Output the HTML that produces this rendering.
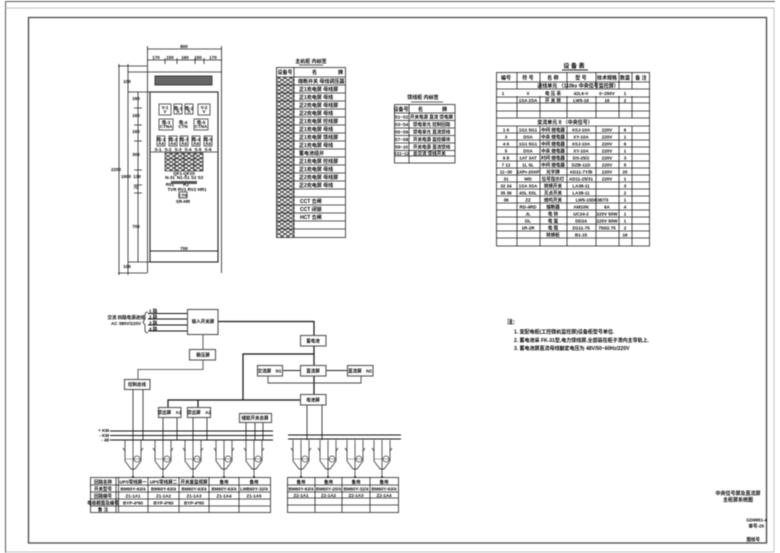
<!DOCTYPE html>
<html><head><meta charset="utf-8"><style>
html,body{margin:0;padding:0;background:#fff;width:780px;height:553px;overflow:hidden}
svg{display:block;filter:blur(.4px)}
text{font-family:"Liberation Sans","Noto Sans CJK SC",sans-serif;fill:#000;font-weight:700}
.s{font-size:4.5px}.m{font-size:5px}.l{font-size:6px}
.c{text-anchor:middle}
.t{fill:none;stroke:#222;stroke-width:.8}
.d{fill:none;stroke:#111;stroke-width:1.2}
.g{fill:none;stroke:#666;stroke-width:1.1}
.b{fill:#fff;stroke:#555;stroke-width:1.1}
</style></head><body>
<svg width="780" height="553" viewBox="0 0 780 553" xmlns="http://www.w3.org/2000/svg">
<defs>
<pattern id="hx" width="6" height="4" patternUnits="userSpaceOnUse"><path d="M0 0L6 4M0 4L6 0" stroke="#222" stroke-width=".8"/></pattern>
<g id="br"><path d="M-10 0L-8 3V13L-2 21H2L8 13V3L10 0" fill="none" stroke="#444" stroke-width=".9"/><path d="M0 -8V30M-8 -8V3M8 -8V3" fill="none" stroke="#333" stroke-width=".8"/><circle cx="4" cy="11" r="3" fill="#fff" stroke="#444" stroke-width=".8"/><path d="M-8 11H8" stroke="#555" stroke-width=".5"/><circle cx="0" cy="29" r="1" fill="#111"/></g>
</defs>
<rect width="780" height="553" fill="#fff"/>
<!-- frames -->
<path d="M5.5 1.5H775M5.5 1.5V553" fill="none" stroke="#555" stroke-width="1"/>
<path d="M5 8H774V552H5" fill="none" stroke="#aaa" stroke-width=".7"/>
<path d="M28.500 17.500H766.500V543H28.500Z" fill="none" stroke="#444" stroke-width="1.3"/>

<!-- cabinet front -->
<g class="t">
<path d="M147.500 46V273M221.500 46V273M147 72H222M118 66H147M128 72H147M128 92H150M128 262H150M118 273H147"/>
<path d="M147 49H222M147 60H222M165 58V64M177 58V64M195 58V64M204 58V64"/>
<path d="M119 64V275M128 64V275M138 92V262M134 108H142M134 125H142M134 141H142M134 170H142M134 185H142M134 193H142"/>
</g>
<text class="s c" x="184" y="48">800</text>
<g class="s c"><text x="156" y="59">170</text><text x="170" y="59">150</text><text x="185" y="59">160</text><text x="198" y="59">150</text><text x="213" y="59">170</text></g>
<g class="s c"><text x="116" y="171">2200</text><text x="126" y="178">1900</text><text x="127" y="83">100</text><text x="136" y="100">160</text><text x="136" y="117">160</text><text x="136" y="133">160</text><text x="136" y="156">300</text><text x="137" y="178">130</text><text x="136" y="189">70</text><text x="136" y="228">700</text><text x="127" y="268">100</text></g>
<rect x="155" y="76" width="57" height="9" fill="#666" stroke="#222" stroke-width=".8"/>
<rect x="150" y="92" width="68" height="170" fill="none" stroke="#222" stroke-width="1.1"/>
<path d="M150 251H218" stroke="#222" stroke-width=".9"/>
<text class="s c" x="184" y="250">700</text>
<g fill="#fff" stroke="#333" stroke-width=".8">
<rect x="159" y="104" width="12" height="11"/><rect x="174" y="104" width="8" height="10"/><rect x="185" y="104" width="8" height="10"/><rect x="198" y="104" width="12" height="11"/>
<rect x="159" y="119" width="14" height="11"/><rect x="194" y="119" width="14" height="11"/>
<rect x="157" y="136" width="8" height="10"/><rect x="169" y="136" width="8" height="10"/><rect x="180" y="136" width="8" height="10"/><rect x="192" y="136" width="8" height="10"/><rect x="204" y="136" width="8" height="10"/>
<rect x="179" y="192" width="8" height="6"/>
</g>
<g class="s c"><text x="165" y="109">V-1</text><text x="165" y="113">V</text><text x="178" y="110">电-1</text><text x="178" y="113">A</text><text x="189" y="110">电-2</text><text x="189" y="113">A</text><text x="204" y="109">V-2</text><text x="204" y="113">V</text>
<text x="166" y="124">电-3</text><text x="166" y="128">CTNA</text><text x="183" y="124">电-4</text><text x="183" y="128">CTN</text><text x="201" y="124">电-5</text><text x="201" y="128">CTNA</text>
<text x="161" y="141">电-1</text><text x="173" y="141">电-2</text><text x="184" y="141">电-3</text><text x="196" y="141">电-4</text><text x="208" y="141">电-5</text>
<text x="161" y="145">A4</text><text x="173" y="145">A4</text><text x="184" y="145">A4</text><text x="196" y="145">A4</text><text x="208" y="145">A4</text></g>
<path d="M150 152H218" stroke="#222" stroke-width=".8"/>
<g class="s c"><text x="158" y="151">S-1</text><text x="168" y="151">S-2</text><text x="178" y="151">S-3</text><text x="188" y="151">S-4</text><text x="198" y="151">S-5</text><text x="208" y="151">S-6</text></g>
<rect x="165" y="153" width="38" height="18" fill="url(#hx)" stroke="#333" stroke-width=".7"/>
<path d="M175 153V171M184 153V171M194 153V171M165 159H203M165 165H203" stroke="#222" stroke-width=".6"/>
<g class="s c"><text x="184" y="175">QF1-QF20</text><text x="170" y="179">N-31</text><text x="190" y="179">N1-S1 S2 S3</text><text x="170" y="186">R01</text><text x="186" y="186">R1</text><text x="187" y="191">TVR RV1 RV2 HR1</text><text x="183" y="203">SR-HR</text></g>
<rect x="171" y="181" width="26" height="3" fill="#555"/>
<text class="s c" x="183" y="197">CTN</text>

<!-- table 1 -->
<text class="m c" x="311" y="63">主机柜 内标签</text><path d="M299 65H323" stroke="#222" stroke-width=".8"/>
<rect x="277" y="77" width="17" height="160" fill="url(#hx)"/>
<rect x="276.500" y="67.500" width="69" height="170" class="t"/>
<path class="t" d="M294 67V237M276 77H345M276 85H345M276 93H345M276 101H345M276 109H345M276 117H345M276 125H345M276 133H345M276 141H345M276 149H345M276 157H345M276 165H345M276 173H345M276 181H345M276 189H345M276 197H345M276 205H345M276 213H345M276 221H345M276 229H345"/>
<text class="m c" x="285" y="74">设备号</text><text class="m" x="312" y="74">名</text><text class="m" x="338" y="74">牌</text>
<g class="m"><text x="298" y="83">熔断开关 母线调压器</text><text x="299" y="91">正1充电屏 母线屏</text><text x="299" y="99">正1充电屏 母线</text><text x="299" y="107">正2充电屏 母线屏</text><text x="299" y="115">正2充电屏 母线</text><text x="299" y="123">正1充电屏 控线屏</text><text x="299" y="131">正1充电屏 母线</text><text x="299" y="139">正1充电屏 馈线屏</text><text x="299" y="147">正1充电屏 母线</text><text x="299" y="155">蓄电池组开</text><text x="299" y="163">正1充电屏 控线屏</text><text x="299" y="171">正1充电屏 母线</text><text x="299" y="179">正2充电屏 母线屏</text><text x="299" y="187">正2充电屏 母线</text><text x="300" y="203">CCT 合闸</text><text x="300" y="211">CCT 闭锁</text><text x="300" y="219">HCT 合闸</text></g>

<!-- table 2 -->
<text class="m c" x="423" y="99">馈线柜 内标签</text><path d="M411 102H443" stroke="#222" stroke-width=".8"/>
<rect x="394.500" y="104.500" width="60.500" height="58.500" class="t"/>
<path class="t" d="M409 104V163M394 113H455M394 120.500H455M394 128H455M394 135.500H455M394 143H455M394 150.500H455M394 156H455"/>
<text class="m c" x="401" y="111">设备号</text><text class="m" x="418" y="111">名</text><text class="m" x="442" y="111">牌</text>
<g class="s c"><text x="401.500" y="118.500">S1~S2</text><text x="401.500" y="126">S3~S4</text><text x="401.500" y="133.500">S5~S6</text><text x="401.500" y="141">S7~S8</text><text x="401.500" y="148.500">S9~10</text><text x="401.500" y="155">S11~12</text></g>
<g class="s"><text x="410" y="118.500">开关电源 直流 馈电屏</text><text x="413" y="126">馈电单元 控制回路</text><text x="413" y="133.500">馈电单元 直流馈线</text><text x="413" y="141">开关电源 监控模块</text><text x="413" y="148.500">开关电源 直流馈线</text><text x="413" y="155">总交流 馈线开关</text></g>

<!-- table 3 -->
<text class="l c" x="574" y="68">设 备 表</text><path d="M562 70H588" stroke="#222" stroke-width=".9"/>
<rect x="496.500" y="72.500" width="153" height="173.500" class="t"/>
<path class="t" d="M517 72V89M517 96V118M517 126V246M540 72V89M540 96V118M540 126V246M567 72V89M567 96V118M567 126V246M596 72V89M596 96V118M596 126V246M619 72V89M619 96V118M619 126V246M632 72V89M632 96V118M632 126V246"/>
<path class="t" d="M496 82H650M496 89H650M496 97H650M496 103H650M496 111H650M496 118H650M496 126H650M496 133H650M496 140H650M496 147H650M496 154H650M496 161H650M496 168H650M496 175H650M496 182H650M496 189H650M496 196H650M496 203H650M496 210H650M496 217H650M496 224H650M496 231H650M496 238H650"/>
<g class="m c"><text x="506" y="79.500">编号</text><text x="528" y="79.500">符 号</text><text x="553" y="79.500">名 称</text><text x="581" y="79.500">型 号</text><text x="607" y="79.500">技术规格</text><text x="625" y="79.500">数量</text><text x="641" y="79.500">备 注</text></g>
<text class="m c" x="578" y="87.500">进线单元 （110kv 中央信号监控屏）</text>
<text class="m c" x="565" y="124">变流单元 II （中央信号）</text>
<g class="s c">
<text x="503" y="95">1</text><text x="528" y="95">V</text><text x="553" y="95">电 压 表</text><text x="581" y="95">42L6-V</text><text x="607" y="95">0~250V</text><text x="625" y="95">1</text>
<text x="528" y="102">1SA 2SA</text><text x="553" y="102">开 关 转</text><text x="581" y="102">LW5-16</text><text x="607" y="102">16</text><text x="625" y="102">2</text>
<text x="506" y="131.500">1 6</text><text x="528" y="131.500">1G1 5G1</text><text x="553" y="131.500">中间 继电器</text><text x="581" y="131.500">XSJ-10A</text><text x="607" y="131.500">220V</text><text x="625" y="131.500">6</text>
<text x="506" y="138.500">3</text><text x="528" y="138.500">DSA</text><text x="553" y="138.500">中央 继电器</text><text x="581" y="138.500">XY-10A</text><text x="607" y="138.500">220V</text><text x="625" y="138.500">1</text>
<text x="506" y="145.500">4 6</text><text x="528" y="145.500">1G1 5G1</text><text x="553" y="145.500">中间 继电器</text><text x="581" y="145.500">XSJ-10A</text><text x="607" y="145.500">220V</text><text x="625" y="145.500">6</text>
<text x="506" y="152.500">5</text><text x="528" y="152.500">DSA</text><text x="553" y="152.500">中央 继电器</text><text x="581" y="152.500">XY-10A</text><text x="607" y="152.500">220V</text><text x="625" y="152.500">1</text>
<text x="506" y="159.500">6 8</text><text x="528" y="159.500">1AT 3AT</text><text x="553" y="159.500">时间 继电器</text><text x="581" y="159.500">DS-25/2</text><text x="607" y="159.500">220V</text><text x="625" y="159.500">3</text>
<text x="506" y="166.500">7 12</text><text x="528" y="166.500">1L 5L</text><text x="553" y="166.500">中间 继电器</text><text x="581" y="166.500">DZB-11D</text><text x="607" y="166.500">220V</text><text x="625" y="166.500">5</text>
<text x="506" y="173.500">11~30</text><text x="528" y="173.500">1XPr-20XP</text><text x="553" y="173.500">光字牌</text><text x="581" y="173.500">AD11-7Y/B</text><text x="607" y="173.500">220V</text><text x="625" y="173.500">20</text>
<text x="506" y="180.500">31</text><text x="528" y="180.500">WD</text><text x="553" y="180.500">信号指示灯</text><text x="581" y="180.500">AD11-25/31</text><text x="607" y="180.500">220V</text><text x="625" y="180.500">1</text>
<text x="506" y="187.500">32 34</text><text x="528" y="187.500">1SA 3SA</text><text x="553" y="187.500">转换开关</text><text x="581" y="187.500">LA38-11</text><text x="625" y="187.500">3</text>
<text x="506" y="194.500">35 36</text><text x="528" y="194.500">4SL 5SL</text><text x="553" y="194.500">灭点开关</text><text x="581" y="194.500">LA38-11</text><text x="625" y="194.500">2</text>
<text x="506" y="201.500">38</text><text x="528" y="201.500">ZZ</text><text x="553" y="201.500">蜂鸣开关</text><text x="592" y="201.500">LW5-15D0387/3</text><text x="625" y="201.500">1</text>
<text x="528" y="208.500">RD-4RD</text><text x="553" y="208.500">熔断器</text><text x="581" y="208.500">AM10N</text><text x="607" y="208.500">6A</text><text x="625" y="208.500">4</text>
<text x="528" y="215.500">JL</text><text x="553" y="215.500">电 铃</text><text x="581" y="215.500">UC24-2</text><text x="607" y="215.500">220V 50W</text><text x="625" y="215.500">1</text>
<text x="528" y="222.500">DL</text><text x="553" y="222.500">电 笛</text><text x="581" y="222.500">DD24</text><text x="607" y="222.500">220V 50W</text><text x="625" y="222.500">1</text>
<text x="528" y="229.500">1R-2R</text><text x="553" y="229.500">电 阻</text><text x="581" y="229.500">ZG11-75</text><text x="607" y="229.500">750Ω 75</text><text x="625" y="229.500">2</text>
<text x="553" y="236.500">转换柜</text><text x="581" y="236.500">B1-15</text><text x="625" y="236.500">16</text>
</g>

<!-- system: lines -->
<path d="M148 313.500H187M148 319H187M148 325H187M148 331H187" stroke="#111" stroke-width="1.1" fill="none"/>
<path class="t" d="M148 312Q145 312 145 315V319L143 322L145 325V330Q145 333 148 333"/>
<g class="s"><text x="149" y="312.500">1 路</text><text x="149" y="318.500">2 路</text><text x="149" y="324.500">3 路</text><text x="149" y="330.500">4 路</text></g>
<text class="s c" x="126" y="319">交流 四路电源进线</text>
<text class="s c" x="126" y="325">AC 380V/220V</text>
<path class="d" d="M218 321.500H314V335M314 346V365M314 354H243V400M314 376V394M168 407V400H300"/>
<path class="d" d="M198 400V407"/>
<path class="g" d="M203 334V349M203 360V369.500H138V379"/>
<path d="M282 370.500H300M326 370.500H347" stroke="#222" stroke-width="1"/>
<path d="M268 376V383H361V376" stroke="#444" stroke-width=".9" fill="none"/>
<path d="M133 389V440M143 389V440M163 417V440M177 417V440M193 417V440M207 417V440M246 422V440M255 422V440M263 422V440M307 405V440M322 405V440" stroke="#333" stroke-width=".9" fill="none"/>
<!-- bus -->
<path d="M110 431H273M110 435.500H273M110 440H273M288 435H401M288 439H401" stroke="#111" stroke-width="1" fill="none"/>
<g class="s" text-anchor="end"><text x="109" y="432">+ KM</text><text x="109" y="437">- KM</text><text x="109" y="441.500">- 48</text></g>
<!-- boxes -->
<rect x="187.500" y="309.500" width="30.500" height="25" class="b"/>
<rect x="189.500" y="349.500" width="26" height="10.500" class="b"/>
<rect x="124.500" y="379.500" width="25.500" height="10" class="b"/>
<rect x="300.500" y="335.500" width="25.500" height="10.500" class="b"/>
<rect x="257.500" y="365.500" width="25" height="10.500" class="b"/>
<rect x="300.500" y="365.500" width="25.500" height="10.500" class="b"/>
<rect x="347.500" y="365.500" width="25.500" height="10.500" class="b"/>
<rect x="300.500" y="394.500" width="25.500" height="10.500" class="b"/>
<rect x="158.500" y="407.500" width="22.500" height="10" class="b"/>
<rect x="187.500" y="407.500" width="23" height="10" class="b"/>
<rect x="239.500" y="413.500" width="32" height="9" class="b"/>
<g class="s c"><text x="203" y="323">输入开关屏</text><text x="203" y="356.500">稳压屏</text><text x="137" y="386">控制总线</text><text x="313" y="342.500">蓄电池</text><text x="269.500" y="372.500">交流屏　N1</text><text x="313" y="372.500">直流屏</text><text x="360" y="372.500">直流屏　N2</text><text x="313" y="401.500">电池屏</text><text x="169.500" y="414">馈出屏　A1</text><text x="199" y="414">馈出屏　A2</text><text x="255" y="419.500">储能开关总屏</text></g>
<!-- breakers -->
<use href="#br" x="133" y="448"/><use href="#br" x="163" y="448"/><use href="#br" x="193" y="448"/><use href="#br" x="224" y="448"/><use href="#br" x="254" y="448"/>
<use href="#br" x="301" y="448"/><use href="#br" x="328" y="448"/><use href="#br" x="355" y="448"/><use href="#br" x="382" y="448"/>
<!-- bottom tables -->
<rect x="90.500" y="477.500" width="180" height="35" class="t"/>
<path class="t" d="M116 477V512M118.500 477V512M148 477V512M179 477V512M209 477V512M239 477V512M90 485H270M90 492H270M90 499H270M90 506H270"/>
<g class="s c">
<text x="103" y="483.500">回路名称</text><text x="133" y="483.500">UPS零线屏一</text><text x="163.500" y="483.500">UPS零线屏二</text><text x="194" y="483.500">开关量监视屏</text><text x="224" y="483.500">备用</text><text x="254" y="483.500">备用</text>
<text x="103" y="490.500">开关型号</text><text x="133" y="490.500">BM60Y-63/4</text><text x="163.500" y="490.500">BM60Y-63/4</text><text x="194" y="490.500">BM60Y-63/4</text><text x="224" y="490.500">BM60Y-63/4</text><text x="254" y="490.500">LMB60Y-32/4</text>
<text x="103" y="497.500">回路编号</text><text x="133" y="497.500">Z1-1A1</text><text x="163.500" y="497.500">Z1-1A2</text><text x="194" y="497.500">Z1-1A3</text><text x="224" y="497.500">Z1-1A4</text><text x="254" y="497.500">Z1-1A5</text>
<text x="103" y="504.500">电缆截面及编号</text><text x="133" y="504.500">BYP-4*60</text><text x="163.500" y="504.500">BYP-4*60</text><text x="194" y="504.500">BYP-4*60</text>
<text x="103" y="511">备 注</text></g>
<rect x="287.500" y="477.500" width="111" height="35" class="t"/>
<path class="t" d="M315 477V512M342 477V512M370 477V512M287 485H398M287 492H398M287 498H398M287 505H398"/>
<g class="s c">
<text x="301" y="483.500">备用</text><text x="328.500" y="483.500">备用</text><text x="356" y="483.500">备用</text><text x="384" y="483.500">备用</text>
<text x="301" y="490.500">BM60Y-63/4</text><text x="328.500" y="490.500">BM60Y-20/4</text><text x="356" y="490.500">BM60Y-32/4</text><text x="384" y="490.500">BM60Y-63/4</text>
<text x="301" y="497">Z2-1A1</text><text x="328.500" y="497">Z2-1A2</text><text x="356" y="497">Z2-1A3</text><text x="384" y="497">Z2-1A4</text></g>
<!-- notes -->
<text class="l" x="507" y="324">注:</text>
<g class="m"><text x="514" y="333.500">1. 变配电柜(工控微机监控屏)设备柜型号单位.</text><text x="514" y="342">2. 蓄电池采 FK-31型,电力馈线屏,全部装在柜子滑内主导轨上.</text><text x="514" y="350">3. 蓄电池屏直流母线额定电压为 48V/50~60Hz/220V</text></g>
<g class="m c"><text x="738" y="495">中央信号屏及直流屏</text><text x="738" y="501.500">主柜屏系统图</text></g>
<g class="s" text-anchor="end"><text x="767" y="521.500">GD9951-4</text><text x="764" y="527.500">审号-25</text><text x="760" y="541">图纸号</text></g>
</svg>
</body></html>
